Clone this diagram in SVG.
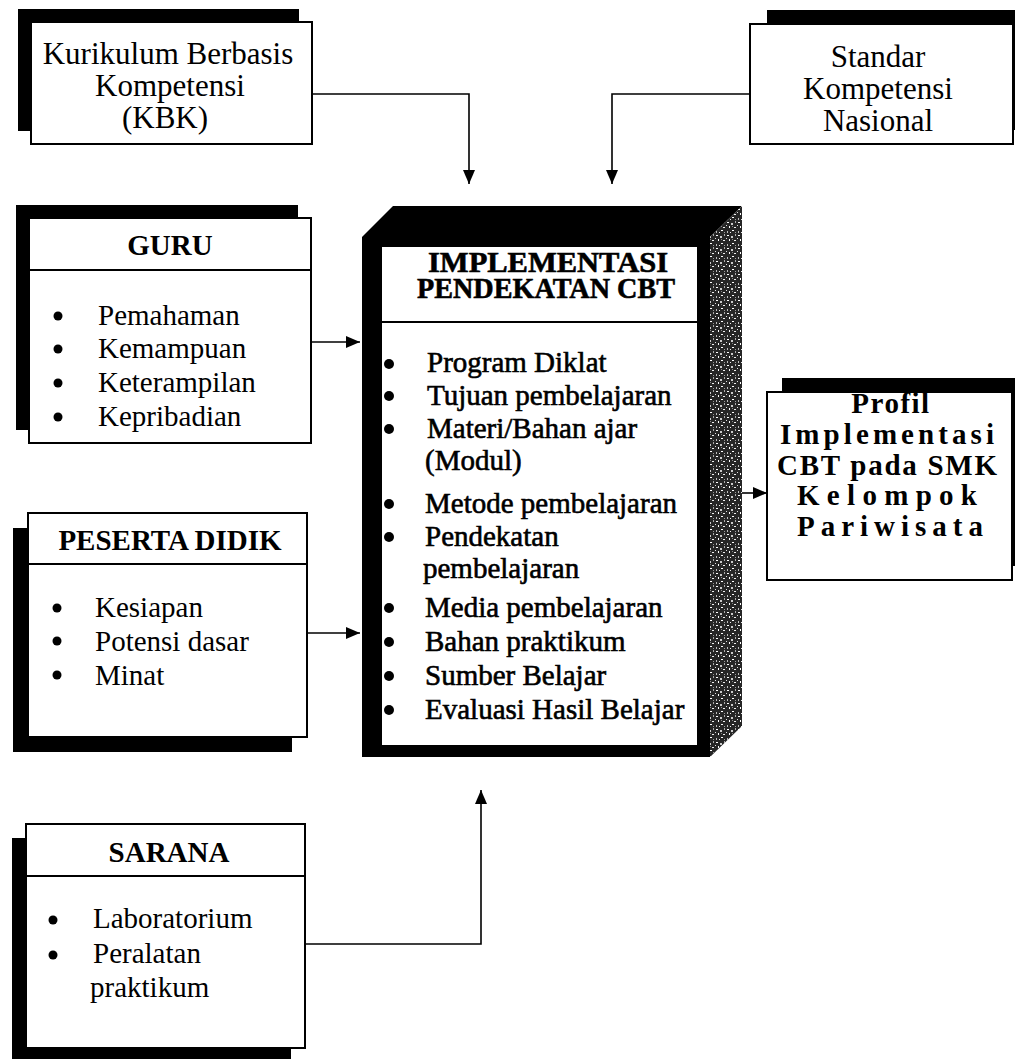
<svg xmlns="http://www.w3.org/2000/svg" width="1015" height="1059" viewBox="0 0 1015 1059">
<style>
.t{font-family:"Liberation Serif","Times New Roman",serif;font-size:29px;fill:#000}
.b{font-weight:bold}
.c{text-anchor:middle}
.heavy{stroke:#000;stroke-width:0.6}
.frame{fill:#fff;stroke:#000;stroke-width:2}
.shadow{fill:#000}
.sep{stroke:#000;stroke-width:2}
.conn{fill:none;stroke:#000;stroke-width:1.6}
.top{font-size:31px}
</style>
<defs>
<marker id="arr" markerWidth="14" markerHeight="12" refX="14" refY="6" orient="auto" markerUnits="userSpaceOnUse">
<path d="M0,0 L14,6 L0,12 Z" fill="#000"/>
</marker>
<pattern id="speck" width="11" height="13" patternUnits="userSpaceOnUse">
<rect width="11" height="13" fill="#262626"/>
<rect x="1" y="1" width="2" height="1" fill="#fff"/>
<rect x="5" y="2" width="2" height="2" fill="#ccc"/>
<rect x="3" y="5" width="1" height="2" fill="#fff"/>
<rect x="8" y="6" width="2" height="1" fill="#eee"/>
<rect x="0" y="4" width="1" height="1" fill="#ddd"/>
<rect x="9" y="0" width="1" height="2" fill="#aaa"/>
<rect x="6" y="9" width="2" height="1" fill="#fff"/>
<rect x="1" y="10" width="1" height="2" fill="#bbb"/>
<rect x="4" y="11" width="1" height="1" fill="#eee"/>
<rect x="9" y="11" width="1" height="1" fill="#999"/>
<rect x="6" y="5" width="1" height="1" fill="#888"/>
</pattern>
</defs>

<g id="connectors">
<path class="conn" d="M312,94 H469 V184" marker-end="url(#arr)"/>
<path class="conn" d="M750,94 H612 V184" marker-end="url(#arr)"/>
<path class="conn" d="M311,342 H360" marker-end="url(#arr)"/>
<path class="conn" d="M307,633 H360" marker-end="url(#arr)"/>
<path class="conn" d="M305,944 H481 V790" marker-end="url(#arr)"/>
<path class="conn" d="M742,493 H767" marker-end="url(#arr)"/>
</g>

<g id="kbk">
<rect class="shadow" x="18" y="9" width="281" height="122"/>
<rect class="frame" x="31" y="22" width="281" height="122"/>
<text class="t c top" x="168" y="64">Kurikulum Berbasis</text>
<text class="t c top" x="170" y="96">Kompetensi</text>
<text class="t c top" x="165" y="128">(KBK)</text>
</g>

<g id="standar">
<rect class="shadow" x="767" y="10" width="263" height="120"/>
<rect class="frame" x="750" y="24" width="263" height="120"/>
<text class="t c top" x="878" y="67">Standar</text>
<text class="t c top" x="878" y="99">Kompetensi</text>
<text class="t c top" x="878" y="131">Nasional</text>
</g>

<g id="guru">
<rect class="shadow" x="16" y="205" width="282" height="225"/>
<rect class="frame" x="29" y="218" width="282" height="225"/>
<line class="sep" x1="29" y1="270" x2="311" y2="270"/>
<text class="t b c" x="170" y="255">GURU</text>
<g fill="#000">
<circle cx="58" cy="316" r="4.5"/><circle cx="58" cy="349" r="4.5"/><circle cx="58" cy="383" r="4.5"/><circle cx="58" cy="417" r="4.5"/>
</g>
<text class="t" x="98" y="325">Pemahaman</text>
<text class="t" x="98" y="358">Kemampuan</text>
<text class="t" x="98" y="392">Keterampilan</text>
<text class="t" x="98" y="426">Kepribadian</text>
</g>

<g id="implementasi">
<polygon points="362,237 393,206 742,206 710,237" fill="#000"/>
<polygon points="710,237 742,206 742,726 710,757" fill="url(#speck)"/>
<rect x="362" y="237" width="348" height="520" fill="#000"/>
<rect x="382" y="247" width="315" height="498" fill="#fff"/>
<line class="sep" x1="382" y1="322" x2="697" y2="322"/>
<text class="t b c heavy" x="548" y="272" font-size="26" textLength="240" lengthAdjust="spacingAndGlyphs">IMPLEMENTASI</text>
<text class="t b c heavy" x="546" y="298" font-size="26" textLength="258" lengthAdjust="spacingAndGlyphs">PENDEKATAN CBT</text>
<g fill="#000">
<circle cx="389" cy="364" r="5"/><circle cx="389" cy="396" r="5"/><circle cx="389" cy="429" r="5"/>
<circle cx="389" cy="504" r="5"/><circle cx="389" cy="537" r="5"/>
<circle cx="389" cy="608" r="5"/><circle cx="389" cy="642" r="5"/><circle cx="389" cy="676" r="5"/><circle cx="389" cy="710" r="5"/>
</g>
<text class="t heavy" x="427" y="372">Program Diklat</text>
<text class="t heavy" x="427" y="405">Tujuan pembelajaran</text>
<text class="t heavy" x="427" y="438">Materi/Bahan ajar</text>
<text class="t heavy" x="425" y="470">(Modul)</text>
<text class="t heavy" x="425" y="513">Metode pembelajaran</text>
<text class="t heavy" x="425" y="546">Pendekatan</text>
<text class="t heavy" x="423" y="578">pembelajaran</text>
<text class="t heavy" x="425" y="617">Media pembelajaran</text>
<text class="t heavy" x="425" y="651">Bahan praktikum</text>
<text class="t heavy" x="425" y="685">Sumber Belajar</text>
<text class="t heavy" x="425" y="719">Evaluasi Hasil Belajar</text>
</g>

<g id="profil">
<rect class="shadow" x="782" y="378" width="245" height="188"/>
<rect class="frame" x="767" y="392" width="245" height="188"/>
<text class="t b c" x="891" y="413" font-size="29" letter-spacing="1.5">Profil</text>
<text class="t b c" x="887" y="444" font-size="29" textLength="214" lengthAdjust="spacing">Implementasi</text>
<text class="t b c" x="887" y="475" font-size="29" textLength="220" lengthAdjust="spacing">CBT pada SMK</text>
<text class="t b c" x="887" y="505" font-size="29" textLength="180" lengthAdjust="spacing">Kelompok</text>
<text class="t b c" x="890" y="536" font-size="29" textLength="186" lengthAdjust="spacing">Pariwisata</text>
</g>

<g id="peserta">
<rect class="shadow" x="13" y="528" width="279" height="224"/>
<rect class="frame" x="28" y="513" width="279" height="224"/>
<line class="sep" x1="28" y1="564" x2="307" y2="564"/>
<text class="t b c" x="170" y="550">PESERTA DIDIK</text>
<g fill="#000">
<circle cx="57" cy="608" r="4.5"/><circle cx="57" cy="641" r="4.5"/><circle cx="57" cy="675" r="4.5"/>
</g>
<text class="t" x="95" y="617">Kesiapan</text>
<text class="t" x="95" y="651">Potensi dasar</text>
<text class="t" x="95" y="685">Minat</text>
</g>

<g id="sarana">
<rect class="shadow" x="12" y="838" width="279" height="224"/>
<rect class="frame" x="26" y="824" width="279" height="224"/>
<line class="sep" x1="26" y1="876" x2="305" y2="876"/>
<text class="t b c" x="169" y="862">SARANA</text>
<g fill="#000">
<circle cx="53" cy="920" r="4.5"/><circle cx="53" cy="955" r="4.5"/>
</g>
<text class="t" x="93" y="928">Laboratorium</text>
<text class="t" x="93" y="963">Peralatan</text>
<text class="t" x="90" y="997">praktikum</text>
</g>
</svg>
